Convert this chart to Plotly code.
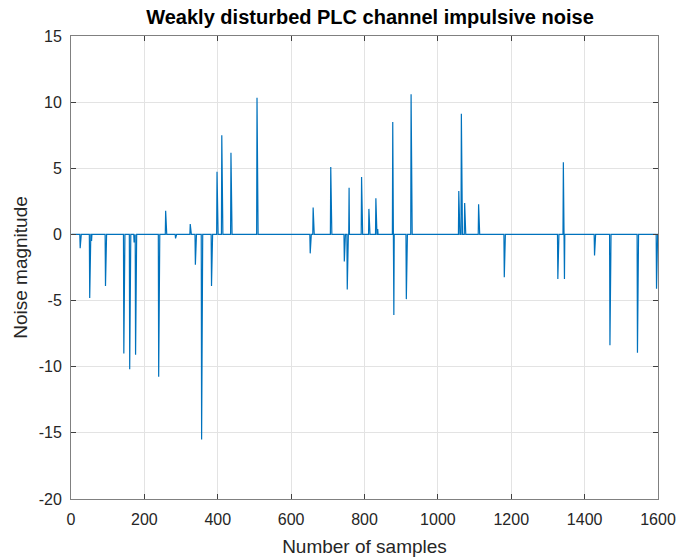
import plotly.graph_objects as go

n_samples = 1600
spike_idx = [25, 51, 56, 94, 144, 160, 172, 176, 239, 258, 285, 325, 339, 356, 383,
             398, 411, 436, 507, 652, 660, 708, 745, 753, 758, 792, 812, 831, 836,
             877, 880, 914, 927, 1057, 1064, 1073, 1111, 1181, 1327, 1342, 1345,
             1427, 1469, 1544, 1596]
spike_val = [-1.05, -4.8, -0.5, -3.9, -9.0, -10.2, -0.6, -9.1, -10.75, 1.78, -0.3, 0.78,
             -2.3, -15.5, -3.9, 4.74, 7.5, 6.17, 10.33, -1.43, 2.03, 5.09, -2.05, -4.16,
             3.53, 4.34, 1.93, 2.73, 0.4, 8.5, -6.1, -4.89, 10.6, 3.28, 9.12, 2.38,
             2.28, -3.23, -3.36, 5.46, -3.36, -1.6, -8.37, -8.95, -4.11]

x_ticks = [0, 200, 400, 600, 800, 1000, 1200, 1400, 1600]
y_ticks = [-20, -15, -10, -5, 0, 5, 10, 15]
y_tick_labels = ["-20", "-15", "-10", "-5", "0", "5", "10", "15"]

x = list(range(1, n_samples + 1))
y = [0.0] * n_samples
for i, v in zip(spike_idx, spike_val):
    y[i - 1] = v

fig = go.Figure(go.Scatter(x=x, y=y, mode="lines",
                           line=dict(color="#0072BD", width=1.2)))

FONT = "Liberation Sans, Arial, sans-serif"
axis_common = dict(showline=True, linecolor="#808080", linewidth=1, mirror="ticks",
                   ticks="inside", ticklen=5, tickcolor="#404040", automargin=False,
                   showgrid=True, gridcolor="#E3E3E3", gridwidth=1, zeroline=False,
                   tickfont=dict(family=FONT, size=16, color="#262626"))

fig.update_layout(
    width=678, height=559,
    margin=dict(l=71, r=20, t=36, b=60),
    paper_bgcolor="white", plot_bgcolor="white",
    showlegend=False,
    title=dict(text="<b>Weakly disturbed PLC channel impulsive noise</b>",
               x=370 / 678, xanchor="center", xref="container",
               y=1 - 17 / 559, yref="container", yanchor="middle",
               font=dict(family=FONT, size=20, color="#000000")),
    xaxis=dict(range=[0, 1600], tickvals=x_ticks, ticklabelstandoff=6,
               title=dict(text="Number of samples", standoff=12,
                          font=dict(family=FONT, size=19, color="#262626")),
               **axis_common),
    yaxis=dict(range=[-20, 15], tickvals=y_ticks, ticktext=y_tick_labels,
               ticklabelstandoff=5,
               title=dict(text="Noise magnitude", standoff=6,
                          font=dict(family=FONT, size=19, color="#262626")),
               **axis_common),
)

fig.write_html("out.html")
